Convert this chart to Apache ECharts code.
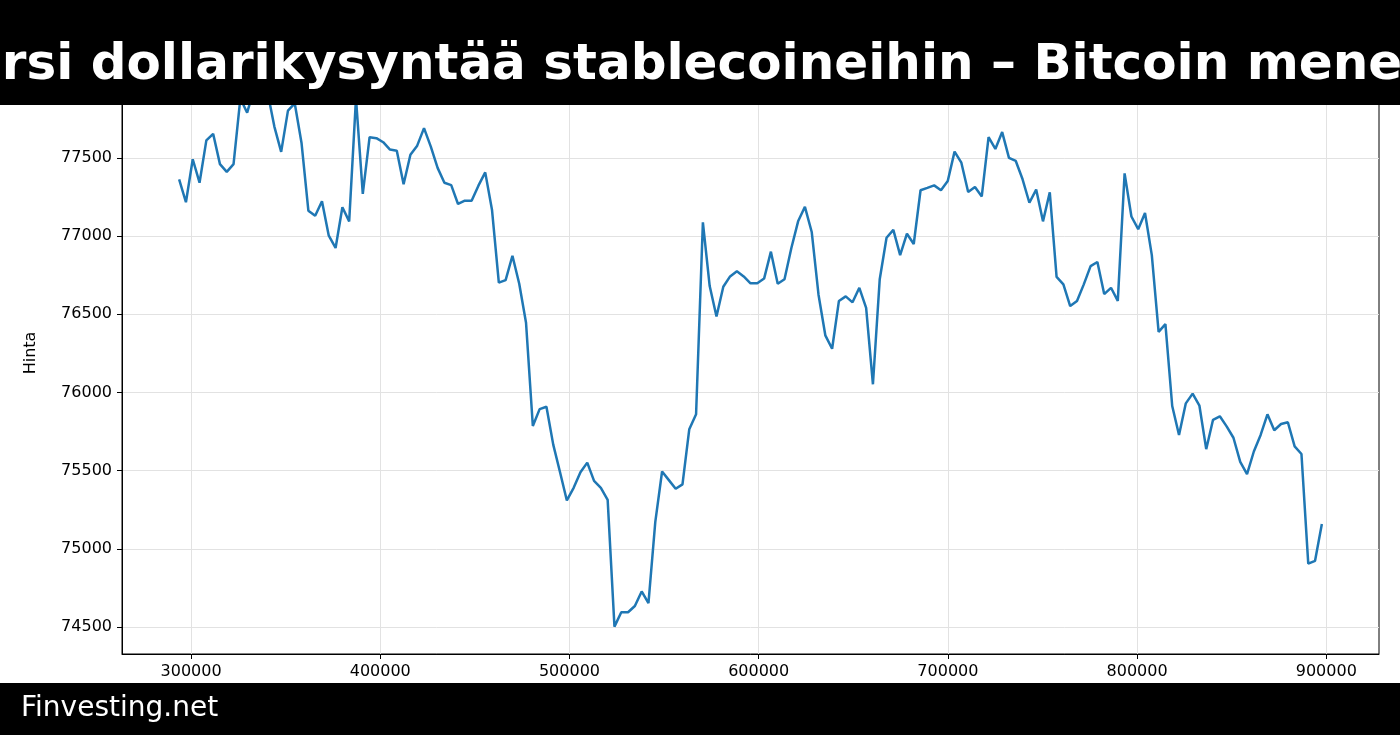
<!DOCTYPE html>
<html><head><meta charset="utf-8">
<script src="https://cdn.jsdelivr.net/npm/echarts@6/dist/echarts.min.js"></script>
<style>html,body{margin:0;padding:0;background:#fff;overflow:hidden}#c{width:1400px;height:735px}</style>
</head><body><div id="c"></div>
<script>
const titleText = 'rsi dollarikysyntää stablecoineihin – Bitcoin mene';
const footerText = 'Finvesting.net';
const yAxisName = 'Hinta';
const xStart = 293700;
const xStep = 3595;
const prices = [
77363,77216,77491,77341,77612,77654,77460,77410,77460,77880,
77789,77940,78000,77920,77700,77538,77802,77848,77593,77162,
77130,77222,77002,76924,77184,77094,77880,77270,77632,77626,
77600,77553,77546,77331,77520,77578,77690,77572,77436,77341,
77326,77205,77226,77225,77322,77407,77166,76702,76718,76874,
76695,76445,75785,75893,75908,75666,75489,75309,75390,75489,
75551,75434,75390,75313,74502,74594,74594,74634,74727,74652,
75170,75494,75439,75384,75412,75765,75860,77088,76680,76486,
76676,76742,76775,76742,76698,76698,76728,76900,76695,76724,
76922,77094,77187,77026,76625,76365,76279,76585,76614,76576,
76669,76541,76052,76724,76989,77039,76878,77015,76949,77293,
77308,77324,77293,77352,77540,77469,77282,77313,77253,77632,
77557,77665,77500,77480,77363,77213,77297,77094,77280,76739,
76691,76552,76585,76691,76808,76834,76629,76669,76585,77401,
77125,77044,77147,76878,76387,76437,75913,75728,75930,75992,
75915,75637,75825,75847,75783,75710,75556,75478,75622,75728,
75860,75758,75798,75809,75655,75606,74905,74923,75159
];
const xTicks = [300000,400000,500000,600000,700000,800000,900000];
const yTicks = [74500,75000,75500,76000,76500,77000,77500];

const points = prices.map((p, i) => [xStart + i * xStep, p]);
const font = 'DejaVu Sans';

const chart = echarts.init(document.getElementById('c'), null, {renderer: 'canvas'});
chart.setOption({
  animation: false,
  backgroundColor: '#ffffff',
  grid: {
    left: 122, right: 21, top: 52, bottom: 81,
    show: true, borderColor: '#000', borderWidth: 1, backgroundColor: 'transparent',
    containLabel: false, outerBoundsMode: 'none'
  },
  xAxis: {
    type: 'value', min: 263500, max: 927860,
    axisLine: {show: true, onZero: false, lineStyle: {color: '#000', width: 1}},
    axisTick: {show: true, customValues: xTicks, length: 5, inside: false, lineStyle: {color: '#000', width: 1}},
    axisLabel: {show: true, customValues: xTicks, color: '#000', fontFamily: font, fontSize: 16, margin: 10,
      formatter: v => String(v)},
    splitLine: {show: true, lineStyle: {color: '#e2e2e2', width: 1}}
  },
  yAxis: {
    type: 'value', min: 74327, max: 78177,
    name: yAxisName, nameLocation: 'middle', nameGap: 83,
    nameTextStyle: {color: '#000', fontFamily: font, fontSize: 16},
    axisLine: {show: true, onZero: false, lineStyle: {color: '#000', width: 1}},
    axisTick: {show: true, customValues: yTicks, length: 5, inside: false, lineStyle: {color: '#000', width: 1}},
    axisLabel: {show: true, customValues: yTicks, color: '#000', fontFamily: font, fontSize: 16, margin: 10,
      formatter: v => String(v)},
    splitLine: {show: true, lineStyle: {color: '#e2e2e2', width: 1}}
  },
  series: [{
    type: 'line', data: points, showSymbol: false, symbol: 'none', clip: true,
    lineStyle: {color: '#1f77b4', width: 2.5}, itemStyle: {color: '#1f77b4'}
  }],
  graphic: [
    {type: 'rect', z: 100, shape: {x: 0, y: 0, width: 1400, height: 105}, style: {fill: '#000'}},
    {type: 'text', z: 101, style: {text: titleText, x: 702, y: 66, textAlign: 'center', textVerticalAlign: 'middle',
      fill: '#fff', font: 'bold 50px "DejaVu Sans"'}},
    {type: 'rect', z: 100, shape: {x: 0, y: 683, width: 1400, height: 52}, style: {fill: '#000'}},
    {type: 'text', z: 101, style: {text: footerText, x: 21, y: 709, textAlign: 'left', textVerticalAlign: 'middle',
      fill: '#fff', font: '28px "DejaVu Sans"'}}
  ]
});
</script>
</body></html>
